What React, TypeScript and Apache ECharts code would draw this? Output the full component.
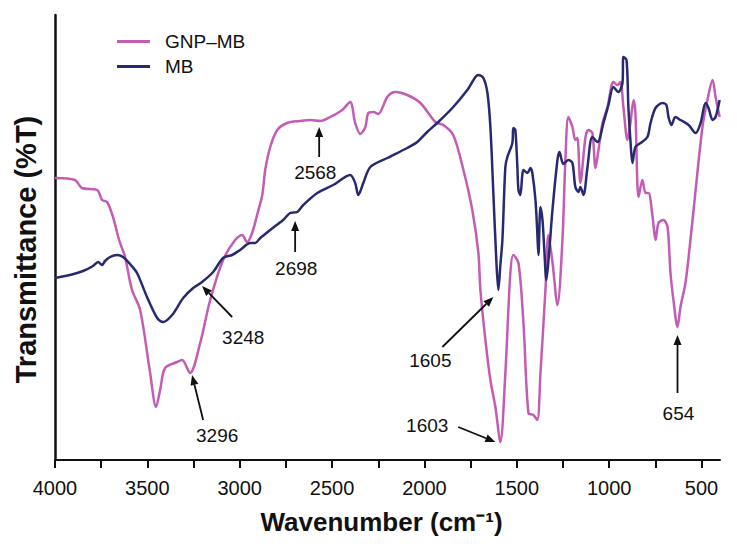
import React, { useEffect, useRef } from "react";
import * as echarts from "echarts";

// GNP–MB spectrum (wavenumber cm-1, transmittance arbitrary units)
const gnpWavenumber = [4000, 3892, 3854, 3772, 3745, 3718, 3686, 3653, 3621, 3583, 3539, 3485, 3453, 3431, 3404, 3339, 3312, 3269, 3214, 3160, 3090, 3025, 2987, 2960, 2933, 2906, 2878, 2862, 2835, 2797, 2743, 2673, 2618, 2564, 2510, 2445, 2402, 2375, 2347, 2320, 2304, 2277, 2250, 2201, 2158, 2093, 2022, 1941, 1898, 1844, 1789, 1741, 1708, 1697, 1670, 1643, 1616, 1589, 1562, 1535, 1519, 1491, 1464, 1437, 1410, 1389, 1372, 1345, 1329, 1307, 1280, 1253, 1237, 1221, 1199, 1183, 1172, 1156, 1128, 1112, 1091, 1074, 1058, 1036, 1009, 977, 955, 939, 923, 901, 885, 868, 858, 841, 820, 803, 787, 765, 749, 733, 706, 684, 668, 652, 630, 614, 587, 560, 532, 495, 468, 440, 424, 402];
const gnpTransmittance = [282, 280, 272, 270, 260, 258, 243, 220, 203, 170, 150, 87, 53, 70, 92, 98, 100, 87, 117, 160, 200, 220, 225, 218, 227, 245, 265, 290, 313, 330, 337, 339, 340, 339, 343, 350, 358, 337, 326, 333, 347, 348, 346, 363, 368, 365, 357, 338, 335, 325, 290, 250, 207, 170, 120, 80, 53, 18, 87, 187, 205, 197, 137, 47, 45, 40, 87, 170, 225, 198, 155, 220, 300, 343, 333, 320, 322, 277, 323, 330, 327, 292, 310, 337, 353, 378, 375, 378, 353, 320, 337, 360, 347, 263, 280, 267, 267, 243, 220, 237, 240, 233, 187, 160, 133, 153, 177, 220, 270, 333, 360, 380, 363, 343];

// MB spectrum
const mbWavenumber = [4000, 3919, 3848, 3794, 3767, 3745, 3729, 3702, 3664, 3632, 3594, 3556, 3502, 3447, 3415, 3366, 3306, 3252, 3204, 3144, 3090, 3041, 2998, 2943, 2916, 2889, 2835, 2765, 2727, 2689, 2656, 2580, 2494, 2402, 2375, 2358, 2331, 2293, 2201, 2093, 2039, 1985, 1925, 1844, 1768, 1741, 1724, 1708, 1681, 1659, 1643, 1627, 1611, 1600, 1589, 1578, 1562, 1551, 1524, 1519, 1508, 1497, 1491, 1481, 1464, 1443, 1426, 1416, 1399, 1389, 1383, 1372, 1361, 1351, 1340, 1324, 1307, 1280, 1269, 1248, 1221, 1199, 1183, 1166, 1156, 1139, 1118, 1091, 1063, 1031, 1004, 977, 950, 928, 923, 906, 896, 885, 874, 858, 830, 793, 776, 749, 711, 690, 679, 663, 641, 614, 570, 532, 505, 478, 462, 440, 424, 402];
const mbTransmittance = [182, 185, 189, 194, 198, 195, 199, 203, 205, 203, 196, 187, 163, 142, 138, 145, 162, 172, 178, 188, 202, 205, 210, 217, 217, 222, 230, 240, 247, 248, 255, 267, 275, 285, 277, 265, 277, 293, 302, 312, 318, 328, 338, 353, 370, 378, 383, 385, 382, 367, 333, 267, 200, 170, 195, 220, 293, 303, 317, 332, 330, 293, 270, 265, 290, 287, 292, 287, 260, 227, 205, 253, 240, 210, 180, 210, 250, 300, 308, 296, 300, 297, 273, 268, 273, 265, 292, 323, 318, 337, 355, 373, 368, 377, 403, 400, 353, 320, 297, 313, 317, 323, 337, 352, 357, 355, 343, 335, 343, 340, 335, 327, 337, 357, 352, 340, 343, 360];

const xLabelValues = [4000, 3500, 3000, 2500, 2000, 1500, 1000, 500];
const xTickValues = [4000, 3750, 3500, 3250, 3000, 2750, 2500, 2250, 2000, 1750, 1500, 1250, 1000, 750, 500];

// Peak annotations: label, arrow tip, arrow tail, text centre (data coords)
const annotLabels = ["3296", "3248", "2698", "2568", "1605", "1603", "654"];
const annotTip = [[3258, 85], [3204, 174], [2700, 239], [2570, 333], [1627, 163], [1616, 18], [630, 125]];
const annotTail = [[3198, 40], [3041, 143], [2700, 208], [2570, 303], [1903, 113], [1817, 33], [630, 67]];
const annotText = [[3122, 25], [2981, 123], [2694, 192], [2591, 288], [1968, 100], [1985, 35], [625, 47]];

const PINK = "#c35cb4";
const NAVY = "#282a6f";
const FONT = "'Liberation Sans', Arial, Helvetica, sans-serif";

export default function App() {
  const ref = useRef<HTMLDivElement>(null);
  useEffect(() => {
    if (!ref.current) return;
    const chart = echarts.init(ref.current, undefined, { renderer: "svg" });
    const gnpData = gnpWavenumber.map((w, i) => [w, gnpTransmittance[i]]);
    const mbData = mbWavenumber.map((w, i) => [w, mbTransmittance[i]]);
    chart.setOption({
      animation: false,
      backgroundColor: "#ffffff",
      textStyle: { fontFamily: FONT },
      grid: { left: 55, right: 17, top: 15, bottom: 95 },
      legend: {
        orient: "vertical",
        left: 112,
        top: 27,
        icon: "rect",
        itemWidth: 33,
        itemHeight: 3,
        itemGap: 6,
        data: ["GNP–MB", "MB"],
        textStyle: { fontSize: 19, color: "#111", fontFamily: FONT, padding: [0, 0, 0, 10] },
      },
      xAxis: {
        type: "value",
        min: 400,
        max: 4000,
        inverse: true,
        name: "Wavenumber (cm⁻¹)",
        nameLocation: "middle",
        nameGap: 49,
        nameTextStyle: {
          fontSize: 26,
          fontWeight: "bold",
          color: "#111",
          fontFamily: FONT,
          padding: [0, 12, 0, 0],
        },
        axisLine: { show: true, onZero: false, lineStyle: { color: "#111", width: 2 } },
        axisTick: { show: true, customValues: xTickValues, length: 8, lineStyle: { color: "#111", width: 2 } },
        axisLabel: {
          customValues: xLabelValues,
          fontSize: 20,
          color: "#111",
          margin: 18,
          fontFamily: FONT,
          formatter: (v: number) => String(v),
        },
        splitLine: { show: false },
      },
      yAxis: {
        type: "value",
        min: 0,
        max: 445,
        name: "Transmittance (%T)",
        nameLocation: "middle",
        nameGap: 15,
        nameTextStyle: {
          fontSize: 29,
          fontWeight: "bold",
          color: "#111",
          fontFamily: FONT,
          padding: [0, 24, 0, 0],
        },
        axisLine: { show: true, lineStyle: { color: "#111", width: 2.5 } },
        axisTick: { show: false },
        axisLabel: { show: false },
        splitLine: { show: false },
      },
      series: [
        {
          name: "GNP–MB",
          type: "line",
          data: gnpData,
          symbol: "none",
          smooth: 0.3,
          lineStyle: { color: PINK, width: 2.5 },
          itemStyle: { color: PINK },
          z: 2,
        },
        {
          name: "MB",
          type: "line",
          data: mbData,
          symbol: "none",
          smooth: 0.3,
          lineStyle: { color: NAVY, width: 2.5 },
          itemStyle: { color: NAVY },
          z: 3,
        },
      ],
    });

    const graphics: any[] = [];
    annotLabels.forEach((lab, i) => {
      const tip = chart.convertToPixel({ gridIndex: 0 }, annotTip[i]) as number[];
      const tail = chart.convertToPixel({ gridIndex: 0 }, annotTail[i]) as number[];
      const txt = chart.convertToPixel({ gridIndex: 0 }, annotText[i]) as number[];
      const dx = tip[0] - tail[0];
      const dy = tip[1] - tail[1];
      const len = Math.sqrt(dx * dx + dy * dy);
      const ux = dx / len;
      const uy = dy / len;
      const headLen = 10;
      const headHalf = 4;
      const bx = tip[0] - ux * headLen;
      const by = tip[1] - uy * headLen;
      graphics.push({
        type: "line",
        shape: { x1: tail[0], y1: tail[1], x2: bx, y2: by },
        style: { stroke: "#111", lineWidth: 1.8 },
        z: 10,
      });
      graphics.push({
        type: "polygon",
        shape: {
          points: [
            [tip[0], tip[1]],
            [bx - uy * headHalf, by + ux * headHalf],
            [bx + uy * headHalf, by - ux * headHalf],
          ],
        },
        style: { fill: "#111" },
        z: 10,
      });
      graphics.push({
        type: "text",
        x: txt[0],
        y: txt[1],
        style: {
          text: lab,
          fontSize: 19,
          fill: "#111",
          fontFamily: FONT,
          align: "center",
          verticalAlign: "middle",
        },
        z: 10,
      });
    });
    chart.setOption({ graphic: graphics });

    return () => chart.dispose();
  }, []);
  return (
    <div
      ref={ref}
      style={{ position: "fixed", left: 0, top: 0, width: 737, height: 555, background: "#fff" }}
    />
  );
}
